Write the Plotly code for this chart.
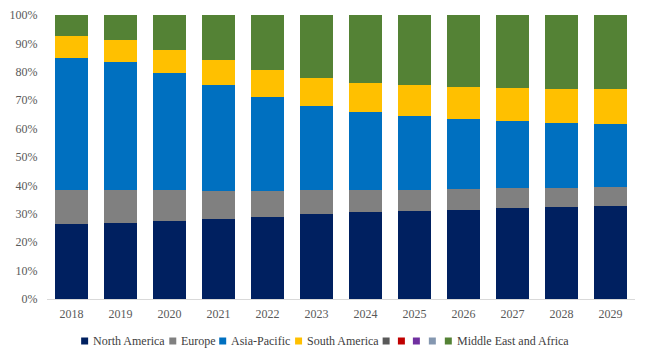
import plotly.graph_objects as go

years = ["2018", "2019", "2020", "2021", "2022", "2023", "2024", "2025", "2026", "2027", "2028", "2029"]

north_america = [26.4, 26.8, 27.5, 28.2, 28.9, 29.9, 30.6, 31.0, 31.3, 32.0, 32.4, 32.7]
europe = [12.0, 11.6, 10.9, 9.8, 9.1, 8.5, 7.8, 7.4, 7.4, 7.1, 6.7, 6.7]
asia_pacific = [46.5, 45.1, 41.2, 37.4, 33.1, 29.6, 27.4, 26.0, 24.7, 23.6, 22.9, 22.2]
south_america = [7.7, 7.7, 8.1, 8.8, 9.5, 9.8, 10.3, 11.0, 11.2, 11.6, 11.9, 12.3]
blank_a = [0] * 12
blank_b = [0] * 12
blank_c = [0] * 12
blank_d = [0] * 12
middle_east_africa = [7.4, 8.8, 12.3, 15.8, 19.4, 22.2, 23.9, 24.6, 25.4, 25.7, 26.1, 26.1]

series_names = ["North America", "Europe", "Asia-Pacific", "South America", "", "", "", "", "Middle East and Africa"]
series_values = [north_america, europe, asia_pacific, south_america, blank_a, blank_b, blank_c, blank_d, middle_east_africa]
series_colors = ["#002060", "#808080", "#0070C0", "#FFC000", "#595959", "#C00000", "#7030A0", "#8497B0", "#548235"]

OFF = 8  # page body margin
W, H = 650 - OFF, 362 - OFF
L, R, T, B = 46.5 - OFF, 14.5, 15 - OFF, 63
FONT = "Liberation Serif, Times New Roman, Times, DejaVu Serif, serif"

fig = go.Figure()
for name, vals, col in zip(series_names, series_values, series_colors):
    fig.add_trace(go.Bar(x=years, y=vals, name=name, marker=dict(color=col, line=dict(width=0)),
                         showlegend=False))

# custom compact legend (Excel style), positions in screen pixels
pw = W - L - R
ph = H - T - B
def px_x(p):
    return (p - OFF - L) / pw
def px_y(p):
    return (H - B - (p - OFF)) / ph

square_x = [80.7, 169, 219, 295, 382.7, 398, 413, 429, 445]
legend_y = 341
shapes = []
annotations = []
for sx, name, col in zip(square_x, series_names, series_colors):
    shapes.append(dict(type="rect", xref="paper", yref="paper",
                       x0=px_x(sx), x1=px_x(sx + 7), y0=px_y(legend_y + 3.5), y1=px_y(legend_y - 3.5),
                       fillcolor=col, line=dict(width=0)))
    if name:
        annotations.append(dict(xref="paper", yref="paper", x=px_x(sx + 10), y=px_y(legend_y),
                                xanchor="left", yanchor="middle", text=name, showarrow=False,
                                font=dict(family=FONT, size=12, color="#404040")))

fig.update_layout(
    width=W, height=H,
    margin=dict(l=L, r=R, t=T, b=B, autoexpand=False),
    barmode="stack",
    bargap=0.31,
    plot_bgcolor="white",
    paper_bgcolor="white",
    font=dict(family=FONT, size=12, color="#595959"),
    showlegend=False,
    shapes=shapes,
    annotations=annotations,
    xaxis=dict(showgrid=False, showline=True, linecolor="#D9D9D9", linewidth=1,
               ticks="outside", ticklen=4, tickcolor="rgba(0,0,0,0)", automargin=False,
               tickfont=dict(family=FONT, size=12, color="#595959")),
    yaxis=dict(range=[0, 100], dtick=10, ticksuffix="%", showgrid=False, showline=False,
               zeroline=False, ticks="outside", ticklen=6, tickcolor="rgba(0,0,0,0)", automargin=False,
               tickfont=dict(family=FONT, size=12, color="#595959")),
)

fig.write_html("out.html")
